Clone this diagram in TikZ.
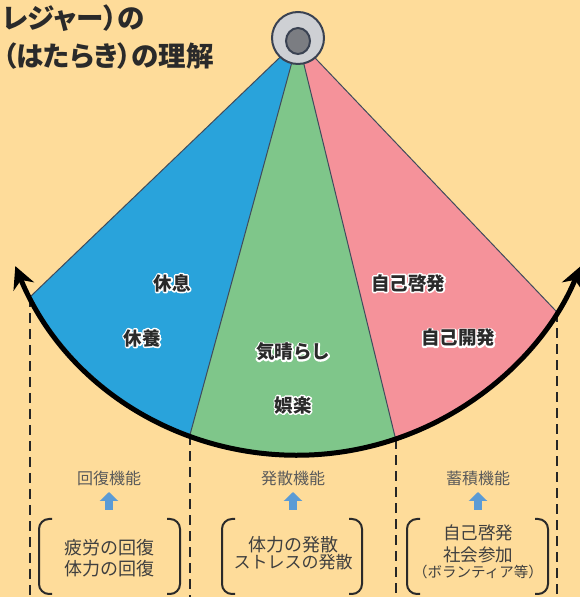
\documentclass[tikz,border=0pt]{standalone}
\usepackage{fontspec}
\setmainfont{Noto Sans CJK JP}
\newfontfamily\ttlfont[RawFeature=+palt]{Noto Sans CJK JP}
\usetikzlibrary{arrows.meta}
\definecolor{bg}{HTML}{FEDC9A}
\definecolor{wblue}{HTML}{29A3DB}
\definecolor{wgreen}{HTML}{7FC68A}
\definecolor{wpink}{HTML}{F5929A}
\definecolor{hubfill}{HTML}{CED0D4}
\definecolor{hubin}{HTML}{7B7D82}
\definecolor{hubline}{HTML}{3A4252}
\definecolor{edgec}{HTML}{3F4B5C}
\definecolor{txt}{HTML}{2A2A2A}
\definecolor{ftxt}{HTML}{5A5A5A}
\definecolor{uparrc}{HTML}{5B9BD5}
\newcommand\strokewhite[1]{\special{pdf:literal direct q 1 1 1 RG 1 1 1 rg 3 w 1 j 2 Tr}#1\special{pdf:literal direct Q}}
\tikzset{
  edge/.style={draw=edgec, line width=1pt},
  bigarc/.style={line width=5pt, black, {Stealth[length=22pt,width=22pt,inset=7pt]}-{Stealth[length=22pt,width=22pt,inset=7pt]}},
  dashline/.style={line width=2.2pt, black!85, dash pattern=on 10pt off 6pt},
  wl/.style={font=\fontsize{18.5}{22}\selectfont\bfseries, text=txt, inner sep=0pt},
  wlhalo/.style={wl, text=white},
  fl/.style={font=\fontsize{16}{19}\selectfont, text=ftxt, inner sep=0pt},
  bt/.style={font=\fontsize{18}{21}\selectfont, text=txt!90, inner sep=0pt},
  uparr/.style={uparrc, line width=8pt, -{Triangle[width=18pt,length=9pt]}},
  brk/.style={line width=2pt, txt, rounded corners=10pt},
  ttl/.style={font=\ttlfont\fontsize{27.5}{30}\selectfont\bfseries, text=txt, inner sep=0pt, anchor=base west}
}
\newcommand\hlabel[3]{%
  \node[wlhalo] (#1h) at (#2) {\strokewhite{#3}};
  \node[wl] (#1) at (#2) {#3};}
\begin{document}
\begin{tikzpicture}[x=1pt,y=1pt]
\useasboundingbox (0,0) rectangle (580,597);
\fill[bg] (0,0) rectangle (580,597);
\coordinate (C) at (298,448);
\coordinate (P) at (298,557);
\coordinate (B) at (0,0);
\coordinate (A1) at ([shift={(C)}]208.9:306);
\coordinate (A2) at ([shift={(C)}]249.3:306);
\coordinate (A3) at ([shift={(C)}]288.6:306);
\coordinate (A4) at ([shift={(C)}]327.8:306);
\coordinate (E1) at ([shift={(C)}]202.5:306);
% wedges
\fill[wblue] (P) -- (A1) arc[start angle=208.9,end angle=249.3,radius=306] -- cycle;
\fill[wgreen] (P) -- (A2) arc[start angle=249.3,end angle=288.6,radius=306] -- cycle;
\fill[wpink] (P) -- (A3) arc[start angle=288.6,end angle=327.8,radius=306] -- cycle;
\draw[edge] (P) -- (A1);
\draw[edge] (P) -- (A2);
\draw[edge] (P) -- (A3);
\draw[edge] (P) -- (A4);
% dashed lines
\draw[dashline] (A1) -- (A1 |- B);
\draw[dashline] (A2) -- (A2 |- B);
\draw[dashline] (A3) -- (A3 |- B);
\draw[dashline] (A4) -- (A4 |- B);
% big arc
\draw[bigarc] (E1) arc[start angle=202.5,end angle=337.5,radius=306];
% hub
\filldraw[fill=hubfill, draw=hubline, line width=2pt] (298,559) circle[radius=26];
\filldraw[fill=hubin, draw=hubline, line width=2pt] (298,556) ellipse[x radius=12, y radius=13];
% title
\node[ttl] (title1) at (2,568) {レジャー）の};
\node[ttl] (title2) at (3,530) {（はたらき）の理解};
% wedge labels
\coordinate (p1) at (172,314);
\coordinate (p2) at (142,259);
\coordinate (p3) at (293,245);
\coordinate (p4) at (293,192);
\coordinate (p5) at (408,314);
\coordinate (p6) at (458,259);
\hlabel{l1}{p1}{休息}
\hlabel{l2}{p2}{休養}
\hlabel{l3}{p3}{気晴らし}
\hlabel{l4}{p4}{娯楽}
\hlabel{l5}{p5}{自己啓発}
\hlabel{l6}{p6}{自己開発}
% function labels
\node[fl] (f1) at (109,119) {回復機能};
\node[fl] (f2) at (293,119) {発散機能};
\node[fl] (f3) at (478,119) {蓄積機能};
% up arrows
\coordinate (u1s) at (109,87); \coordinate (u1e) at (109,105);
\coordinate (u2s) at (293,87); \coordinate (u2e) at (293,105);
\coordinate (u3s) at (478,87); \coordinate (u3e) at (478,105);
\draw[uparr] (u1s) -- (u1e);
\draw[uparr] (u2s) -- (u2e);
\draw[uparr] (u3s) -- (u3e);
% brackets
\draw[brk] (52,78) -- (39,78) -- (39,3) -- (52,3);
\draw[brk] (167,78) -- (180,78) -- (180,3) -- (167,3);
\draw[brk] (235,78) -- (222,78) -- (222,3) -- (235,3);
\draw[brk] (349,78) -- (362,78) -- (362,3) -- (349,3);
\draw[brk] (420,78) -- (407,78) -- (407,3) -- (420,3);
\draw[brk] (535,78) -- (548,78) -- (548,3) -- (535,3);
% bracket texts
\node[bt] (t1a) at (109,49) {疲労の回復};
\node[bt] (t1b) at (109,28) {体力の回復};
\node[bt] (t2a) at (293,52) {体力の発散};
\node[bt, font=\fontsize{17}{20}\selectfont] (t2b) at (293,35) {ストレスの発散};
\node[bt, font=\fontsize{17.5}{20}\selectfont] (t3a) at (478,64) {自己啓発};
\node[bt, font=\fontsize{17.5}{20}\selectfont] (t3b) at (478,42) {社会参加};
\node[bt, font=\fontsize{14.5}{17}\selectfont] (t3c) at (478,25) {（ボランティア等）};
\end{tikzpicture}
\end{document}
